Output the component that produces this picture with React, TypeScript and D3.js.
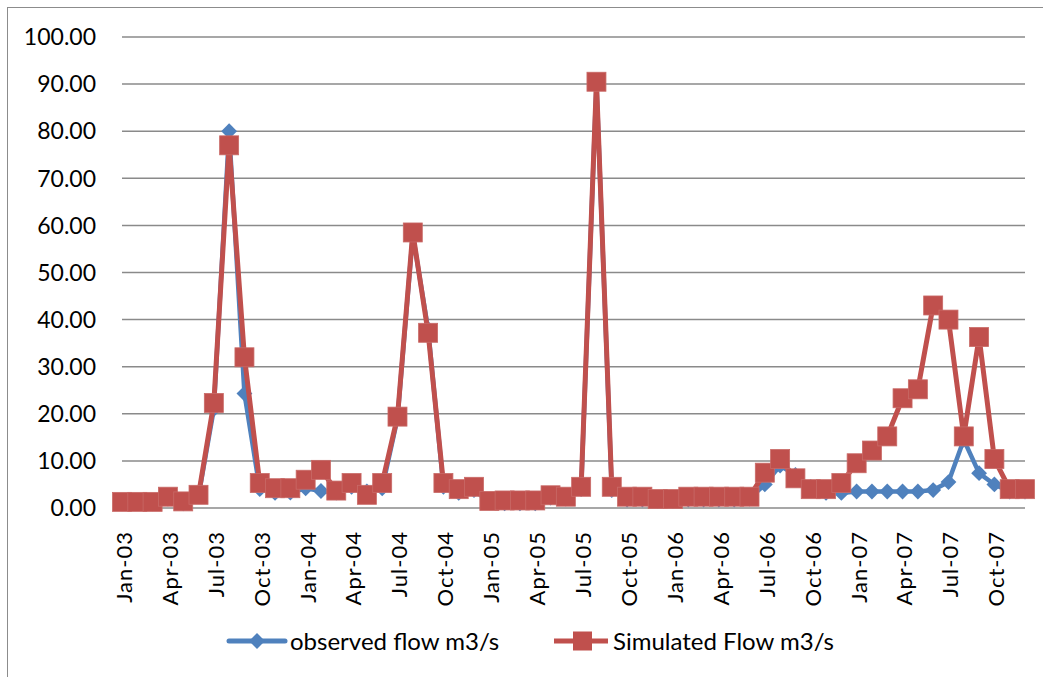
import { useEffect, useRef } from 'react';
import * as d3 from 'd3';

// monthly categories Jan-03 .. Dec-07
const months: Date[] = d3.timeMonth.range(new Date(2003, 0, 1), new Date(2008, 0, 1));

const observed: number[] = [
  1.0, 1.2, 1.0, 2.0, 1.0, 2.5, 21.0, 80.0, 24.3, 4.0, 3.2, 3.3,
  4.2, 3.6, 3.3, 4.5, 3.5, 4.2, 19.0, 58.0, 38.0, 4.5, 3.2, 3.8,
  1.2, 1.0, 1.0, 1.0, 2.2, 2.0, 4.0, 90.3, 3.8, 1.8, 1.8, 1.5,
  1.5, 1.8, 1.8, 1.8, 1.8, 2.0, 5.0, 9.0, 7.0, 4.5, 3.2, 3.2,
  3.5, 3.5, 3.5, 3.5, 3.5, 3.8, 5.5, 14.5, 7.4, 5.0, 3.5, 3.5,
];

const simulated: number[] = [
  1.3, 1.3, 1.3, 2.4, 1.4, 2.8, 22.3, 77.0, 32.0, 5.3, 4.2, 4.2,
  6.0, 8.1, 3.7, 5.3, 2.8, 5.3, 19.4, 58.5, 37.2, 5.3, 4.0, 4.5,
  1.5, 1.6, 1.6, 1.6, 2.7, 2.4, 4.5, 90.5, 4.5, 2.4, 2.4, 1.9,
  1.9, 2.4, 2.4, 2.4, 2.4, 2.4, 7.5, 10.4, 6.3, 4.0, 4.0, 5.3,
  9.5, 12.2, 15.2, 23.3, 25.2, 43.0, 40.0, 15.2, 36.3, 10.4, 4.0, 4.0,
];

const yTicks: number[] = [0, 10, 20, 30, 40, 50, 60, 70, 80, 90, 100];

const seriesNames = ['observed flow m3/s', 'Simulated Flow m3/s'];

const W = 1043;
const H = 677;
const FONT = 'Lato, "Open Sans", sans-serif';
const BLUE = '#4F81BD';
const RED = '#C0504D';

export default function App() {
  const svgRef = useRef<SVGSVGElement>(null);

  useEffect(() => {
    if (!svgRef.current) return;
    const svg = d3.select(svgRef.current);
    svg.selectAll('*').remove();

    const x = d3.scalePoint<number>()
      .domain(months.map((_, i) => i))
      .range([122, 1025]);
    const y = d3.scaleLinear().domain([0, 100]).range([508, 37]);

    // outer border (right / bottom edges fall outside the picture)
    svg.append('rect')
      .attr('x', 7.5).attr('y', 7.5)
      .attr('width', W).attr('height', H)
      .attr('fill', '#fff')
      .attr('stroke', '#8c8c8c')
      .attr('stroke-width', 1);

    // gridlines
    svg.append('g')
      .selectAll('line')
      .data(yTicks)
      .join('line')
      .attr('x1', 122).attr('x2', 1025)
      .attr('y1', d => y(d)).attr('y2', d => y(d))
      .attr('stroke', '#8a8a8a')
      .attr('stroke-width', 1.5);

    // y labels
    svg.append('g')
      .selectAll('text')
      .data(yTicks)
      .join('text')
      .attr('x', 96)
      .attr('y', d => y(d))
      .attr('dy', '0.36em')
      .attr('text-anchor', 'end')
      .style('font-family', FONT)
      .style('font-size', '23px')
      .style('fill', '#000')
      .text(d => d.toFixed(2));

    // x labels every 3 months
    const fmt = d3.timeFormat('%b-%y');
    svg.append('g')
      .selectAll('text')
      .data(months.map((m, i) => ({ m, i })).filter(d => d.i % 3 === 0))
      .join('text')
      .attr('transform', d => `translate(${(x(d.i) ?? 0) + 2},531) rotate(-90)`)
      .attr('dy', '0.36em')
      .attr('text-anchor', 'end')
      .style('font-family', FONT)
      .style('font-size', '22px')
      .style('letter-spacing', '1px')
      .style('fill', '#000')
      .text(d => fmt(d.m));

    const line = d3.line<number>()
      .x((_, i) => x(i) ?? 0)
      .y(d => y(d));

    const diamond = d3.symbol().type(d3.symbolDiamond2).size(160);

    // observed
    svg.append('path')
      .datum(observed)
      .attr('fill', 'none')
      .attr('stroke', BLUE)
      .attr('stroke-width', 4.5)
      .attr('stroke-linejoin', 'round')
      .attr('d', line);

    svg.append('g')
      .selectAll('path')
      .data(observed)
      .join('path')
      .attr('transform', (d, i) => `translate(${x(i)},${y(d)})`)
      .attr('d', diamond)
      .attr('fill', BLUE);

    // simulated
    svg.append('path')
      .datum(simulated)
      .attr('fill', 'none')
      .attr('stroke', RED)
      .attr('stroke-width', 5)
      .attr('stroke-linejoin', 'round')
      .attr('d', line);

    svg.append('g')
      .selectAll('rect')
      .data(simulated)
      .join('rect')
      .attr('x', (_, i) => (x(i) ?? 0) - 9.5)
      .attr('y', d => y(d) - 9.5)
      .attr('width', 19)
      .attr('height', 19)
      .attr('fill', RED)
      .attr('stroke', '#c96a67')
      .attr('stroke-width', 0.8);

    // legend
    const legend = svg.append('g').attr('transform', 'translate(0,641)');
    legend.append('line')
      .attr('x1', 229).attr('x2', 285).attr('y1', 0).attr('y2', 0)
      .attr('stroke', BLUE).attr('stroke-width', 5)
      .attr('stroke-linecap', 'round');
    legend.append('path')
      .attr('transform', 'translate(257,0)')
      .attr('d', diamond)
      .attr('fill', BLUE);
    legend.append('text')
      .attr('x', 290).attr('y', 0).attr('dy', '0.36em')
      .style('font-family', FONT).style('font-size', '24px')
      .text(seriesNames[0]);

    legend.append('line')
      .attr('x1', 554).attr('x2', 608).attr('y1', 0).attr('y2', 0)
      .attr('stroke', RED).attr('stroke-width', 5);
    legend.append('rect')
      .attr('x', 573).attr('y', -9.5).attr('width', 19).attr('height', 19)
      .attr('fill', RED);
    legend.append('text')
      .attr('x', 613).attr('y', 0).attr('dy', '0.36em')
      .style('font-family', FONT).style('font-size', '24px')
      .text(seriesNames[1]);
  }, []);

  return (
    <svg
      ref={svgRef}
      width={W}
      height={H}
      viewBox={`0 0 ${W} ${H}`}
      style={{ position: 'absolute', left: 0, top: 0, background: '#fff' }}
    />
  );
}
